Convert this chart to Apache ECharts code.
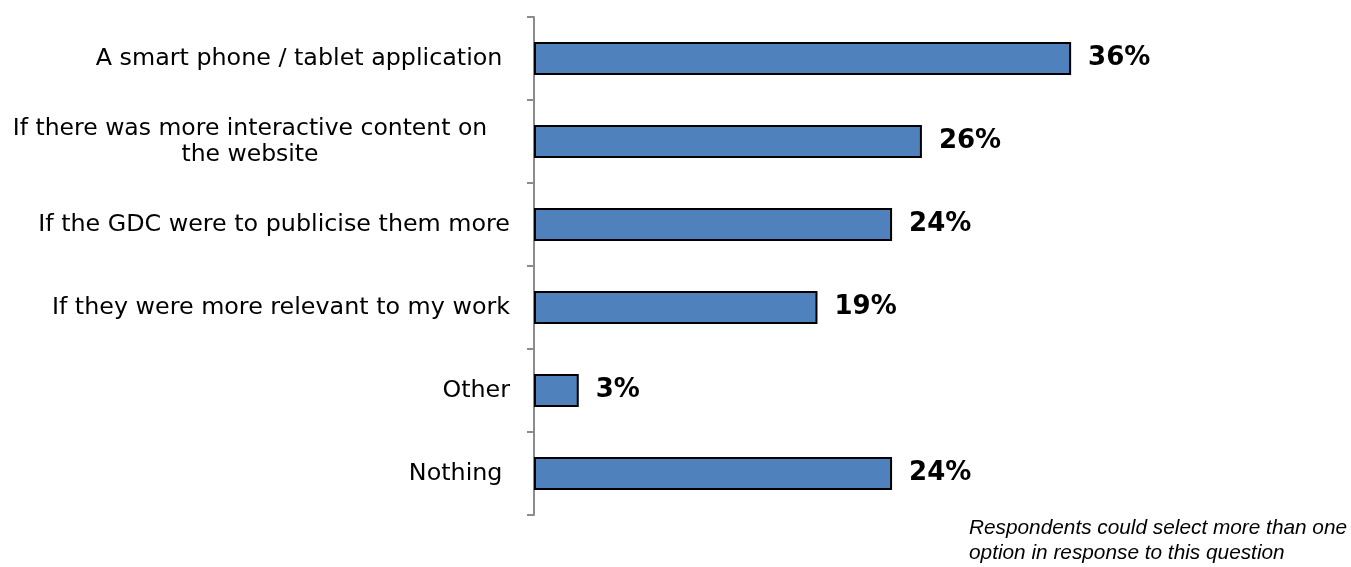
<!DOCTYPE html>
<html>
<head>
<meta charset="utf-8">
<script src="https://cdn.jsdelivr.net/npm/echarts@6/dist/echarts.min.js"></script>
<style>
  html, body { margin: 0; padding: 0; background: #fff; }
  #chart { width: 1351px; height: 567px; }
</style>
</head>
<body>
<div id="chart"></div>
<script>
// Survey answers, top to bottom
const categories = [
  'A smart phone / tablet application ',
  'If there was more interactive content on\nthe website',
  'If the GDC were to publicise them more',
  'If they were more relevant to my work',
  'Other',
  'Nothing '
];
const values = [36, 26, 24, 19, 3, 24];
const footnote = 'Respondents could select more than one\noption in response to this question';

const chart = echarts.init(document.getElementById('chart'));
chart.setOption({
  animation: false,
  grid: { left: 534, top: 17, width: 746, height: 498, containLabel: false, outerBoundsMode: 'none' },
  xAxis: {
    type: 'value', min: 0, max: 50,
    show: false
  },
  yAxis: {
    type: 'category',
    inverse: true,
    data: categories,
    axisLine: { lineStyle: { color: '#8c8c8c', width: 2 } },
    axisTick: { show: true, length: 7, lineStyle: { color: '#8c8c8c', width: 2 } },
    axisLabel: {
      margin: 24,
      color: '#000',
      fontFamily: 'DejaVu Sans',
      fontSize: 23.8,
      lineHeight: 26,
      formatter: function (v) {
        if (v.indexOf('\n') >= 0) {
          return v.split('\n').map(function (s) { return '{c|' + s + '}'; }).join('\n');
        }
        return v;
      },
      rich: {
        c: { width: 520, align: 'center', fontFamily: 'DejaVu Sans', fontSize: 23.5, lineHeight: 26, color: '#000' }
      }
    }
  },
  series: [{
    type: 'bar',
    data: values,
    barWidth: '40%',
    itemStyle: { color: '#4F81BD', borderColor: '#000', borderWidth: 2 },
    label: {
      show: true,
      position: 'right',
      distance: 17,
      formatter: '{c}%',
      color: '#000',
      fontFamily: 'DejaVu Sans',
      fontWeight: 'bold',
      fontSize: 26
    }
  }],
  graphic: [{
    type: 'text',
    left: 969,
    top: 516,
    style: {
      text: footnote,
      fill: '#000',
      font: 'italic 20.8px "Liberation Sans"',
      lineHeight: 25
    }
  }]
});
</script>
</body>
</html>
